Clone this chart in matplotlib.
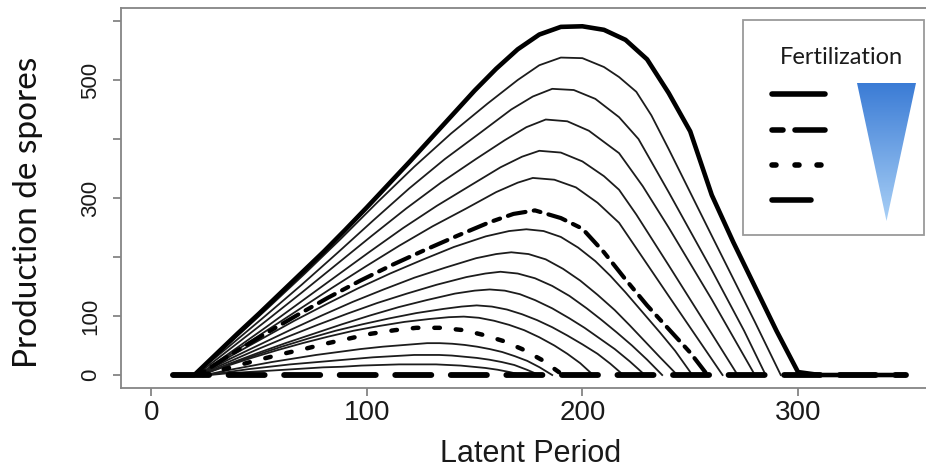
import matplotlib
matplotlib.use("Agg")
import matplotlib.pyplot as plt
import numpy as np
from matplotlib.patches import Polygon, Rectangle
from matplotlib.lines import Line2D
from matplotlib.colors import LinearSegmentedColormap

plt.rcParams['lines.scale_dashes'] = False
plt.rcParams['font.family'] = ['Liberation Sans', 'DejaVu Sans']

# ---------------- data ----------------
c1_x = [10, 20, 30, 40, 50, 60, 70, 80, 90, 100, 110, 120, 130, 140, 150, 160, 170, 180, 190, 200,
        210, 220, 230, 240, 250, 260, 270, 280, 290, 300, 310, 350]
c1_y = [0, 0, 35, 70, 104, 139, 174, 209, 246, 284, 323, 362, 402, 442, 482, 519, 552, 577, 590, 591,
        585, 568, 535, 478, 413, 305, 225, 150, 75, 5, 0, 0]

c2_x = [20, 37, 54, 71, 88, 105, 122, 139, 156, 170, 180, 190, 200, 210, 217, 225, 232, 240, 260, 280, 292]
c2_y = [0, 56, 113, 171, 231, 293, 353, 409, 460, 500, 525, 538, 537, 522, 505, 480, 440, 383, 236, 90, 0]

c3_x = [20, 36.6, 53.2, 69.8, 86.4, 103, 119.6, 136.2, 152.8, 167, 177, 186, 196, 206, 217, 226, 240, 260, 275, 285]
c3_y = [0, 50, 101, 153, 207, 262, 316, 366, 411, 450, 472, 485, 483, 468, 437, 400, 310, 178, 75, 0]

c4_x = [21, 37.2, 53.4, 69.6, 85.8, 102, 118.2, 134.4, 150.6, 164, 174, 183, 193, 203, 217, 228, 240, 260, 280]
c4_y = [0, 46, 92, 139, 187, 235, 282, 326, 366, 398, 420, 433, 430, 414, 376, 320, 250, 128, 0]

c5_x = [22, 37.8, 53.6, 69.4, 85.2, 101, 116.8, 132.6, 148.4, 162, 172, 180, 190, 200, 210, 217, 225, 240, 260, 272]
c5_y = [0, 41, 82, 124, 166, 208, 249, 287, 322, 352, 370, 380, 377, 362, 337, 314, 272, 186, 70, 0]

c6_x = [22, 37.5, 53, 68.5, 84, 99.5, 115, 130.5, 146, 160, 170, 177, 187, 197, 207, 217, 240, 265]
c6_y = [0, 37, 74, 111, 148, 184, 219, 252, 282, 310, 326, 334, 331, 318, 292, 258, 134, 0]

c7_x = [22, 37, 52, 67, 82, 97, 112, 127, 142, 157, 168, 178, 190, 200, 210, 220, 230, 240, 250, 258]
c7_y = [0, 35, 68, 100, 131, 160, 187, 212, 236, 259, 273, 279, 266, 248, 208, 162, 118, 78, 38, 0]

c8_x = [22, 36.8, 51.6, 66.4, 81.2, 96, 110.8, 125.6, 140.4, 155.2, 166, 174, 182, 190, 198, 206, 213, 220, 228, 236, 243, 251]
c8_y = [0, 32, 62, 92, 120, 147, 172, 195, 217, 235, 244, 247, 244, 234, 216, 193, 168, 140, 106, 72, 41, 0]

c9_x = [22, 36.3, 50.6, 64.9, 79.2, 93.5, 107.8, 122.1, 136.4, 150.7, 160, 167, 175, 183, 191, 199, 207, 215, 222, 229, 236, 244]
c9_y = [0, 27, 52, 77, 101, 124, 145, 165, 182, 198, 205, 208, 205, 196, 180, 160, 136, 110, 84, 57, 30, 0]

c10_x = [22, 35.8, 49.6, 63.4, 77.2, 91, 104.8, 118.6, 132.4, 146.2, 155, 162, 170, 178, 186, 194, 202, 209, 216, 223, 230, 237]
c10_y = [0, 22, 44, 65, 85, 104, 122, 138, 153, 166, 172, 175, 172, 164, 151, 134, 113, 93, 72, 50, 26, 0]

c11_x = [23, 36.1, 49.2, 62.3, 75.4, 88.5, 101.6, 114.7, 127.8, 140.9, 150, 157, 164, 171, 178, 186, 194, 201, 208, 215, 222, 229]
c11_y = [0, 19, 37, 54, 70, 86, 101, 115, 127, 138, 143, 145, 143, 137, 127, 113, 96, 80, 62, 44, 23, 0]

c12_x = [23, 35.5, 48, 60.5, 73, 85.5, 98, 110.5, 123, 135.5, 144, 151, 158, 165, 172, 179, 186, 193, 200, 207, 213, 219]
c12_y = [0, 17, 33, 48, 62, 75, 86, 96, 105, 112, 116, 118, 116, 111, 103, 93, 81, 67, 52, 36, 19, 0]

c13_x = [23, 34.8, 46.6, 58.4, 70.2, 82, 93.8, 105.6, 117.4, 129.2, 138, 145, 152, 159, 166, 173, 180, 187, 193, 199, 205]
c13_y = [0, 15, 29, 42, 54, 65, 75, 83, 90, 95, 98, 99, 97, 92, 85, 76, 64, 50, 36, 20, 0]

c14_x = [24, 36, 48, 60, 72, 82, 92, 102, 113, 123, 134, 145, 154, 163, 172, 181, 191]
c14_y = [0, 12, 24, 35, 45, 54, 62, 70, 76, 80, 80, 76, 68, 58, 44, 26, 0]

c15_x = [25, 35.3, 45.6, 55.9, 66.2, 76.5, 86.8, 97.1, 107.4, 117.7, 128, 133.8, 139.6, 145.4, 151.2, 157, 162.8, 168.6, 174.4, 180.2, 186]
c15_y = [0, 8, 15, 22, 28, 34, 39, 44, 48, 51, 54, 54, 53, 51, 48, 44, 39, 32, 24, 13, 0]

c16_x = [26, 35.6, 45.2, 54.8, 64.4, 74, 83.6, 93.2, 102.8, 112.4, 122, 127.8, 133.6, 139.4, 145.2, 151, 156.8, 162.6, 168.4, 174.2, 180]
c16_y = [0, 5, 10, 14, 18, 21, 24, 27, 30, 32, 34, 34, 34, 33, 31, 29, 26, 22, 17, 9, 0]

c17_x = [27, 35.8, 44.6, 53.4, 62.2, 71, 79.8, 88.6, 97.4, 106.2, 115, 120.7, 126.4, 132.1, 137.8, 143.5, 149.2, 154.9, 160.6, 166.3, 172]
c17_y = [0, 3, 5, 7, 9, 11, 13, 14, 16, 17, 18, 18, 18, 18, 17, 16, 14, 12, 9, 5, 0]

c18_x = [10, 350]
c18_y = [0, 0]

x_ticks = [0, 100, 200, 300]
x_tick_labels = ['0', '100', '200', '300']
y_ticks = [0, 100, 200, 300, 400, 500, 600]
y_tick_labels = ['0', '100', '', '300', '', '500', '']

# ---------------- figure ----------------
W, H = 926, 470
fig = plt.figure(figsize=(W / 100, H / 100), dpi=100)
fig.patch.set_facecolor('white')


def fx(px):
    return px / W


def fy(py):
    return 1 - py / H


ax = fig.add_axes([fx(121), fy(388), (936 - 121) / W, (388 - 8) / H])
ax.set_xlim(-14, 364)
ax.set_ylim(-22, 622)

thin_curves = [(c2_x, c2_y), (c3_x, c3_y), (c4_x, c4_y), (c5_x, c5_y), (c6_x, c6_y),
               (c8_x, c8_y), (c9_x, c9_y), (c10_x, c10_y), (c11_x, c11_y), (c12_x, c12_y),
               (c13_x, c13_y), (c15_x, c15_y), (c16_x, c16_y), (c17_x, c17_y)]
for xs, ys in thin_curves:
    ax.plot(xs, ys, color='#1c1c1c', lw=1.3, solid_joinstyle='round', zorder=2)

ax.plot(c18_x, c18_y, color='black', lw=4.2, dashes=(26, 14), dash_capstyle='round', zorder=3)
ax.plot(c14_x, c14_y, color='black', lw=3.2, dashes=(4.0, 11.5), dash_capstyle='round', zorder=4)
ax.plot(c7_x, c7_y, color='black', lw=3.0, dashes=(5, 6, 13, 6), dash_capstyle='round', zorder=4)
ax.plot(c1_x, c1_y, color='black', lw=3.3, solid_capstyle='round', solid_joinstyle='round', zorder=5)

spine_col = '#858585'
for s in ['left', 'bottom', 'top']:
    ax.spines[s].set_color(spine_col)
    ax.spines[s].set_linewidth(1.3)
ax.spines['right'].set_visible(False)

ax.set_xticks(x_ticks)
ax.set_xticklabels(x_tick_labels)
ax.set_yticks(y_ticks)
ax.set_yticklabels(y_tick_labels, rotation=90, va='center')
ax.tick_params(axis='both', direction='out', length=5.5, width=1.3, color=spine_col, labelcolor='#1a1a1a')
ax.tick_params(axis='x', labelsize=20, pad=3)
ax.tick_params(axis='y', labelsize=16, pad=9)

fig.text(fx(531), fy(454), 'Latent Period', fontsize=22, ha='center', va='center', color='#1a1a1a')
fig.text(fx(28), fy(212), 'Production de spores', fontsize=24, rotation=90, ha='center', va='center',
         color='#111111', family=['Lato', 'DejaVu Sans'])

# ---------------- legend (drawn by hand) ----------------
box = Rectangle((fx(743), fy(235)), fx(924) - fx(743), fy(20) - fy(235), transform=fig.transFigure,
                facecolor='white', edgecolor='#9a9a9a', lw=1.3, zorder=10)
fig.add_artist(box)
fig.text(fx(841), fy(57), 'Fertilization', fontsize=17, ha='center', va='center', color='#1a1a1a',
         family=['Lato', 'DejaVu Sans'], zorder=11)

lw_leg = 4.0
leg_segments = [
    [((772, 94), (825, 94))],
    [((772, 130), (783, 130)), ((795, 130), (825, 130))],
    [((772, 165), (776, 165)), ((795, 165), (799, 165)), ((817, 165), (821, 165))],
    [((772, 200), (811, 200))],
]
for segs in leg_segments:
    for (xa, ya), (xb, yb) in segs:
        fig.add_artist(Line2D([fx(xa), fx(xb)], [fy(ya), fy(yb)], transform=fig.transFigure,
                              color='black', lw=lw_leg, solid_capstyle='round', zorder=11))

tri_ax = fig.add_axes([fx(857), fy(221), fx(916) - fx(857), fy(83) - fy(221)], zorder=12)
tri_ax.set_axis_off()
cmap = LinearSegmentedColormap.from_list('fert', ['#a9d0f6', '#3a7bd5'])
grad = np.linspace(0, 1, 256).reshape(-1, 1)
im = tri_ax.imshow(grad, aspect='auto', cmap=cmap, extent=[0, 1, 0, 1], origin='lower')
tri_ax.set_xlim(0, 1)
tri_ax.set_ylim(0, 1)
tri = Polygon([[0, 1], [1, 1], [0.5, 0]], closed=True, transform=tri_ax.transAxes,
              facecolor='none', edgecolor='none')
tri_ax.add_patch(tri)
im.set_clip_path(tri)

fig.savefig('out.png', dpi=100)
